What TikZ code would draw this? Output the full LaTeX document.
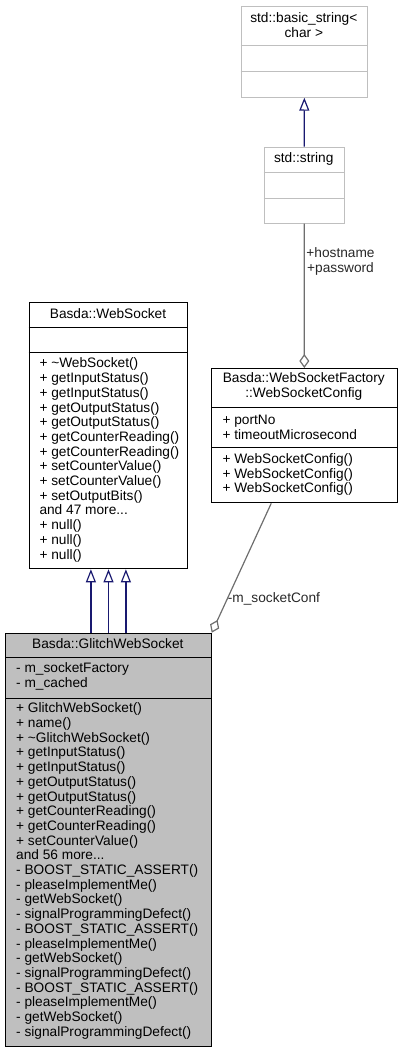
\documentclass[tikz,border=0pt]{standalone}
\usepackage{fontspec}
\setmainfont{Liberation Sans}
\usetikzlibrary{arrows.meta}
\definecolor{midblue}{RGB}{25,25,112}
\definecolor{gboxline}{RGB}{191,191,191}
\definecolor{gfill}{RGB}{191,191,191}
\definecolor{edgegray}{RGB}{110,110,110}
\definecolor{labgray}{RGB}{40,40,40}
\tikzset{
  txt/.style={font=\fontsize{13.7}{14.7}\selectfont, inner sep=0pt, align=left},
  ttl/.style={font=\fontsize{13.7}{14.7}\selectfont, inner sep=0pt, align=center},
  box/.style={draw=black, line width=1pt, anchor=north west, inner sep=0pt},
  gbox/.style={draw=gboxline, line width=1pt, anchor=north west, inner sep=0pt},
  sepline/.style={line width=1pt},
  inh/.style={draw=midblue, line width=1.2pt, -{Triangle[open, length=13pt, width=10pt, line width=1.2pt]}},
  agg/.style={draw=edgegray, line width=1.2pt, -{Diamond[open, length=14pt, width=10pt, line width=1.2pt]}},
  lab/.style={font=\fontsize{13.7}{14.7}\selectfont, inner sep=0pt, text=labgray}
}
\begin{document}
\begin{tikzpicture}[x=1pt,y=-1pt]
\useasboundingbox (0,0) rectangle (402,1052);
% std::basic_string<char>
\node[gbox, minimum width=126.3pt, minimum height=91pt] (bs) at (240.7,5.7) {};
\draw[sepline, gboxline] (bs.west |- 0,45.7) -- (bs.east |- 0,45.7);
\draw[sepline, gboxline] (bs.west |- 0,71) -- (bs.east |- 0,71);
\node[ttl] (bst) at (303.8,25.3) {std::basic\_string<\\char >};
% std::string
\node[gbox, minimum width=80pt, minimum height=76pt] (str) at (263.7,146.7) {};
\draw[sepline, gboxline] (str.west |- 0,172.7) -- (str.east |- 0,172.7);
\draw[sepline, gboxline] (str.west |- 0,198.3) -- (str.east |- 0,198.3);
\node[ttl] (strt) at (303.7,159) {std::string};
% Basda::WebSocket
\node[box, minimum width=158.6pt, minimum height=266.3pt] (ws) at (28.7,302) {};
\draw[sepline] (ws.west |- 0,327) -- (ws.east |- 0,327);
\draw[sepline] (ws.west |- 0,352.3) -- (ws.east |- 0,352.3);
\node[ttl] (wst) at (108,314) {Basda::WebSocket};
\node[txt, anchor=west] (wsm) at (39.3,459.9) {+ \textasciitilde WebSocket()\\+ getInputStatus()\\+ getInputStatus()\\+ getOutputStatus()\\+ getOutputStatus()\\+ getCounterReading()\\+ getCounterReading()\\+ setCounterValue()\\+ setCounterValue()\\+ setOutputBits()\\and 47 more...\\+ null()\\+ null()\\+ null()};
% WebSocketConfig
\node[box, minimum width=185.7pt, minimum height=134.3pt] (wsc) at (211,368) {};
\draw[sepline] (wsc.west |- 0,407.7) -- (wsc.east |- 0,407.7);
\draw[sepline] (wsc.west |- 0,447.7) -- (wsc.east |- 0,447.7);
\node[ttl] (wsct) at (303.8,386.8) {Basda::WebSocketFactory\\::WebSocketConfig};
\node[txt, anchor=west] (wsca) at (222.3,427.2) {+ portNo\\+ timeoutMicrosecond};
\node[txt, anchor=west] (wscm) at (222.3,474.5) {+ WebSocketConfig()\\+ WebSocketConfig()\\+ WebSocketConfig()};
% Basda::GlitchWebSocket
\node[box, fill=gfill, minimum width=205.7pt, minimum height=413.3pt] (gws) at (5,632.7) {};
\draw[sepline] (gws.west |- 0,657.7) -- (gws.east |- 0,657.7);
\draw[sepline] (gws.west |- 0,698) -- (gws.east |- 0,698);
\node[ttl] (gwst) at (107.8,644) {Basda::GlitchWebSocket};
\node[txt, anchor=west] (gwsa) at (16,676.7) {- m\_socketFactory\\- m\_cached};
\node[txt, anchor=west] (gwsm) at (16,871) {+ GlitchWebSocket()\\+ name()\\+ \textasciitilde GlitchWebSocket()\\+ getInputStatus()\\+ getInputStatus()\\+ getOutputStatus()\\+ getOutputStatus()\\+ getCounterReading()\\+ getCounterReading()\\+ setCounterValue()\\and 56 more...\\- BOOST\_STATIC\_ASSERT()\\- pleaseImplementMe()\\- getWebSocket()\\- signalProgrammingDefect()\\- BOOST\_STATIC\_ASSERT()\\- pleaseImplementMe()\\- getWebSocket()\\- signalProgrammingDefect()\\- BOOST\_STATIC\_ASSERT()\\- pleaseImplementMe()\\- getWebSocket()\\- signalProgrammingDefect()};
% edges
\draw[inh] (str.north) -- (bs.south);
\draw[agg] (str.south) -- (wsc.north);
\node[lab, align=center] (l1) at (340.5,261.5) {+hostname\\+password};
\draw[inh] ([xshift=-17.6pt]gws.north -| ws.south) -- ([xshift=-17.6pt]ws.south);
\draw[inh] (gws.north -| ws.south) -- (ws.south);
\draw[inh] ([xshift=17.4pt]gws.north -| ws.south) -- ([xshift=17.4pt]ws.south);
\draw[agg] ([xshift=-33.1pt]wsc.south) -- (gws.north east);
\node[lab, anchor=west] (l2) at (227.7,599.3) {-m\_socketConf};
\end{tikzpicture}
\end{document}
